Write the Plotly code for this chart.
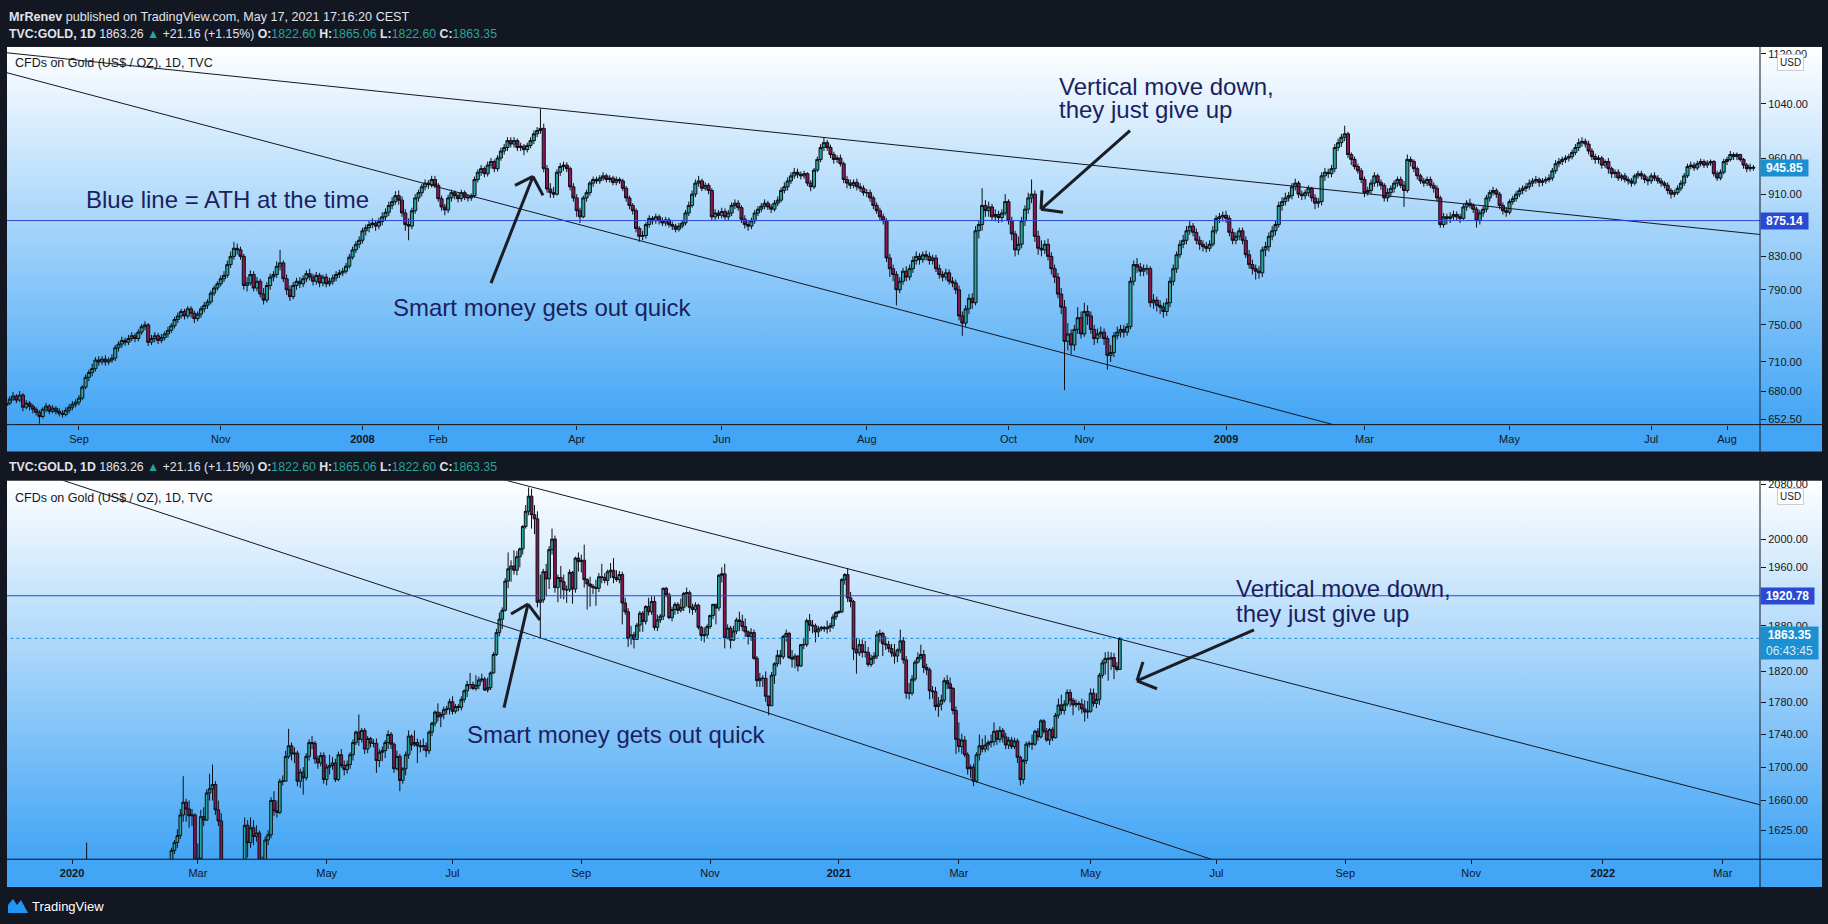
import base64
import numpy as np
import pandas as pd
import plotly.graph_objects as go

W, H = 1828, 924

# ------------------------------------------------------------------ data: top panel (TVC:GOLD 1D, Aug 2007 - Aug 2009)
top_start = "2007-08-01"
top_open = [
    664, 666, 668, 672, 675, 671, 676, 664, 668, 665,
    662, 659, 655, 662, 665, 660, 663, 660, 658, 657,
    661, 664, 667, 669, 673, 684, 694, 699, 703, 712,
    710, 713, 710, 712, 714, 725, 729, 733, 731, 735,
    738, 735, 742, 748, 750, 731, 735, 738, 733, 736,
    740, 744, 749, 756, 760, 765, 760, 768, 763, 757,
    762, 768, 772, 776, 786, 792, 797, 803, 807, 820,
    830, 840, 838, 830, 795, 798, 808, 792, 800, 785,
    778, 795, 805, 808, 818, 822, 803, 790, 782, 795,
    800, 797, 803, 809, 805, 800, 807, 798, 805, 797,
    800, 804, 808, 810, 812, 818, 829, 838, 845, 850,
    862, 866, 870, 872, 868, 874, 880, 886, 895, 900,
    908, 902, 885, 870, 868, 888, 905, 912, 920, 925,
    923, 930, 922, 904, 893, 889, 905, 912, 908, 904,
    912, 906, 905, 908, 930, 940, 945, 938, 950, 955,
    945, 960, 970, 975, 985, 980, 985, 975, 977, 972,
    978, 985, 995, 1000, 1003, 945, 917, 912, 910, 940,
    948, 950, 945, 920, 905, 888, 880, 905, 912, 925,
    930, 928, 932, 935, 930, 932, 926, 930, 928, 918,
    905, 895, 888, 865, 855, 856, 870, 878, 875, 880,
    875, 872, 876, 870, 868, 864, 868, 872, 885, 895,
    910, 925, 928, 918, 922, 915, 880, 885, 882, 887,
    880, 885, 895, 898, 892, 877, 870, 868, 875, 885,
    890, 894, 898, 893, 890, 898, 902, 915, 920, 928,
    935, 940, 937, 935, 938, 925, 920, 943, 958, 975,
    982, 975, 965, 958, 960, 952, 930, 925, 922, 926,
    920, 918, 912, 912, 905, 895, 888, 880, 875, 828,
    815, 808, 790, 800, 812, 805, 815, 825, 830, 826,
    832, 830, 825, 828, 815, 808, 805, 810, 800, 798,
    790, 760, 752, 768, 780, 775, 862, 870, 895, 888,
    893, 880, 883, 879, 885, 900, 875, 858, 838, 845,
    875, 890, 905, 910, 855, 840, 838, 845, 830, 815,
    805, 785, 770, 732, 740, 728, 745, 758, 740, 765,
    760, 745, 735, 740, 742, 735, 717, 720, 738, 742,
    745, 742, 748, 800, 820, 817, 812, 815, 815, 775,
    778, 772, 770, 765, 775, 800, 815, 832, 845, 850,
    862, 868, 860, 850, 845, 842, 840, 845, 862, 878,
    880, 882, 878, 860, 850, 855, 862, 850, 832, 820,
    815, 812, 810, 838, 842, 855, 862, 870, 895, 900,
    905, 908, 920, 925, 910, 908, 912, 918, 905, 898,
    900, 935, 940, 938, 945, 975, 982, 990, 995, 965,
    958, 948, 942, 930, 912, 915, 925, 935, 926, 922,
    905, 912, 918, 925, 930, 922, 915, 958, 955, 945,
    935, 928, 925, 930, 922, 918, 905, 870, 880, 878,
    880, 883, 880, 878, 893, 898, 895, 890, 875, 885,
    890, 905, 912, 915, 910, 895, 888, 886, 900, 904,
    910, 915, 918, 920, 925, 928, 930, 926, 928, 930,
    932, 942, 952, 955, 958, 960, 962, 968, 975, 982,
    984, 980, 970, 962, 958, 960, 950, 955, 945, 938,
    940, 932, 935, 930, 928, 925, 935, 938, 935, 930,
    928, 935, 932, 928, 925, 922, 915, 910, 912, 918,
    925, 935, 948, 950, 946, 952, 955, 950, 953, 955,
    938, 932, 940, 955, 958, 965, 962, 965, 958, 950, 945, 947,
]
top_high = [
    669, 671, 675, 679, 677, 680, 678, 671, 670, 667,
    664, 661, 664, 668, 667, 666, 665, 663, 661, 664,
    667, 670, 672, 676, 686, 697, 702, 708, 715, 716,
    716, 717, 715, 718, 728, 732, 737, 736, 739, 742,
    741, 745, 751, 754, 752, 739, 742, 741, 740, 743,
    748, 752, 759, 764, 768, 768, 771, 771, 766, 765,
    771, 776, 779, 789, 795, 800, 807, 812, 825, 836,
    848, 846, 842, 833, 805, 813, 812, 805, 803, 792,
    799, 809, 812, 824, 838, 825, 808, 795, 799, 804,
    805, 807, 813, 815, 809, 811, 810, 808, 809, 804,
    808, 812, 814, 816, 822, 833, 842, 849, 855, 866,
    870, 875, 878, 876, 879, 886, 891, 900, 906, 914,
    915, 907, 890, 878, 892, 910, 916, 924, 930, 929,
    935, 935, 925, 908, 897, 909, 916, 915, 911, 916,
    915, 910, 911, 934, 944, 950, 948, 955, 960, 958,
    964, 975, 980, 990, 990, 990, 988, 982, 980, 982,
    990, 1000, 1005, 1033, 1010, 950, 925, 920, 944, 953,
    955, 954, 948, 925, 910, 892, 908, 916, 928, 934,
    934, 936, 940, 938, 936, 935, 934, 933, 931, 921,
    908, 898, 891, 868, 862, 873, 882, 881, 884, 883,
    879, 880, 879, 874, 871, 872, 876, 889, 900, 915,
    930, 935, 931, 926, 925, 918, 890, 889, 892, 891,
    889, 899, 903, 902, 895, 882, 875, 879, 889, 894,
    898, 903, 901, 897, 902, 907, 919, 926, 933, 940,
    946, 945, 941, 942, 940, 929, 946, 962, 980, 990,
    986, 979, 969, 964, 965, 955, 935, 930, 930, 931,
    925, 922, 917, 916, 908, 899, 892, 884, 878, 833,
    820, 812, 805, 816, 818, 820, 830, 836, 834, 836,
    837, 835, 832, 832, 820, 812, 815, 814, 805, 802,
    795, 765, 772, 785, 786, 868, 875, 918, 902, 900,
    897, 890, 888, 890, 910, 903, 880, 862, 855, 880,
    895, 912, 930, 915, 862, 850, 850, 852, 835, 820,
    810, 792, 778, 752, 745, 750, 770, 765, 775, 772,
    765, 750, 746, 748, 746, 738, 728, 742, 748, 750,
    750, 752, 805, 825, 828, 822, 820, 820, 818, 785,
    782, 778, 775, 780, 805, 820, 836, 850, 857, 868,
    875, 872, 865, 855, 850, 848, 850, 868, 882, 885,
    887, 888, 882, 865, 860, 866, 866, 855, 838, 826,
    820, 818, 842, 848, 860, 868, 875, 900, 906, 912,
    913, 925, 931, 928, 915, 916, 922, 920, 910, 905,
    940, 946, 945, 950, 980, 988, 995, 1007, 998, 968,
    962, 952, 946, 934, 920, 930, 940, 938, 930, 925,
    918, 922, 929, 934, 934, 928, 965, 962, 958, 948,
    938, 932, 934, 934, 926, 922, 908, 885, 884, 886,
    888, 887, 884, 897, 902, 904, 898, 893, 889, 895,
    909, 916, 920, 918, 913, 899, 893, 903, 908, 914,
    919, 922, 925, 930, 932, 935, 933, 932, 934, 937,
    946, 957, 960, 962, 964, 966, 972, 980, 988, 990,
    988, 985, 974, 966, 964, 963, 958, 960, 948, 944,
    944, 938, 939, 934, 932, 938, 942, 942, 938, 934,
    939, 940, 936, 932, 928, 926, 918, 916, 922, 929,
    939, 952, 955, 954, 956, 959, 958, 957, 958, 957,
    942, 944, 959, 962, 970, 968, 968, 966, 960, 953, 952, 950,
]
top_low = [
    661, 663, 666, 670, 668, 669, 660, 662, 661, 658,
    656, 648, 653, 659, 657, 658, 657, 655, 654, 655,
    658, 661, 664, 666, 671, 682, 690, 695, 700, 706,
    707, 706, 707, 709, 711, 721, 725, 727, 728, 732,
    731, 732, 739, 744, 727, 728, 731, 729, 730, 733,
    736, 741, 746, 752, 757, 756, 757, 758, 752, 754,
    758, 764, 768, 773, 783, 789, 794, 799, 804, 816,
    826, 832, 826, 790, 788, 795, 788, 788, 781, 773,
    775, 790, 800, 804, 813, 799, 784, 777, 779, 790,
    792, 793, 799, 801, 795, 796, 793, 794, 793, 794,
    796, 800, 804, 806, 809, 815, 826, 834, 840, 846,
    856, 860, 865, 862, 864, 869, 875, 881, 890, 896,
    896, 880, 862, 850, 864, 884, 900, 907, 915, 917,
    919, 918, 900, 888, 882, 885, 900, 903, 899, 900,
    902, 900, 901, 905, 926, 935, 933, 934, 945, 940,
    941, 956, 965, 970, 975, 975, 970, 970, 964, 968,
    974, 980, 990, 995, 940, 912, 905, 905, 908, 935,
    942, 940, 915, 900, 880, 872, 878, 900, 908, 920,
    924, 924, 928, 926, 926, 922, 922, 924, 914, 900,
    890, 883, 860, 848, 850, 852, 866, 870, 871, 870,
    868, 868, 866, 863, 860, 861, 865, 869, 881, 892,
    906, 920, 914, 915, 910, 875, 876, 877, 878, 876,
    876, 881, 890, 888, 872, 865, 862, 864, 871, 881,
    886, 890, 889, 885, 887, 894, 899, 911, 915, 924,
    931, 932, 930, 931, 921, 914, 917, 940, 954, 970,
    970, 960, 952, 953, 948, 925, 918, 917, 918, 915,
    913, 908, 906, 900, 890, 884, 875, 870, 823, 805,
    800, 772, 786, 796, 800, 801, 810, 820, 820, 822,
    825, 820, 820, 811, 803, 800, 801, 796, 793, 785,
    755, 738, 748, 762, 768, 772, 852, 862, 880, 880,
    875, 874, 872, 873, 882, 870, 850, 830, 832, 840,
    868, 884, 898, 848, 832, 830, 833, 825, 808, 798,
    780, 762, 681, 722, 718, 722, 740, 735, 737, 750,
    740, 728, 730, 735, 728, 702, 710, 715, 734, 736,
    736, 738, 745, 795, 810, 806, 806, 808, 770, 768,
    765, 762, 758, 760, 770, 795, 810, 828, 840, 845,
    857, 855, 845, 838, 836, 835, 836, 842, 858, 872,
    874, 872, 855, 845, 845, 850, 845, 828, 815, 808,
    802, 803, 805, 830, 836, 850, 856, 866, 888, 895,
    900, 903, 915, 905, 902, 903, 907, 900, 890, 892,
    895, 928, 932, 933, 940, 970, 976, 984, 960, 950,
    944, 938, 925, 906, 908, 910, 920, 920, 916, 900,
    900, 906, 912, 920, 918, 893, 912, 948, 940, 930,
    924, 920, 921, 918, 912, 900, 866, 866, 870, 872,
    876, 875, 872, 876, 888, 891, 885, 866, 870, 880,
    886, 900, 908, 905, 890, 883, 880, 883, 896, 900,
    906, 910, 913, 916, 920, 924, 920, 921, 924, 926,
    928, 938, 947, 950, 953, 955, 958, 964, 970, 976,
    975, 965, 957, 952, 952, 945, 946, 938, 932, 932,
    928, 928, 926, 923, 920, 922, 931, 930, 925, 922,
    924, 928, 924, 920, 918, 910, 904, 906, 909, 914,
    921, 932, 944, 942, 943, 948, 946, 946, 949, 934,
    928, 929, 937, 950, 955, 957, 957, 955, 945, 940, 941, 942,
]
top_close = [
    666, 668, 672, 675, 671, 676, 664, 668, 665, 662,
    659, 655, 662, 665, 660, 663, 660, 658, 657, 661,
    664, 667, 669, 673, 684, 694, 699, 703, 712, 710,
    713, 710, 712, 714, 725, 729, 733, 731, 735, 738,
    735, 742, 748, 750, 731, 735, 738, 733, 736, 740,
    744, 749, 756, 760, 765, 760, 768, 763, 757, 762,
    768, 772, 776, 786, 792, 797, 803, 807, 820, 830,
    840, 838, 830, 795, 798, 808, 792, 800, 785, 778,
    795, 805, 808, 818, 822, 803, 790, 782, 795, 800,
    797, 803, 809, 805, 800, 807, 798, 805, 797, 800,
    804, 808, 810, 812, 818, 829, 838, 845, 850, 862,
    866, 870, 872, 868, 874, 880, 886, 895, 900, 908,
    902, 885, 870, 868, 888, 905, 912, 920, 925, 923,
    930, 922, 904, 893, 889, 905, 912, 908, 904, 912,
    906, 905, 908, 930, 940, 945, 938, 950, 955, 945,
    960, 970, 975, 985, 980, 985, 975, 977, 972, 978,
    985, 995, 1000, 1003, 945, 917, 912, 910, 940, 948,
    950, 945, 920, 905, 888, 880, 905, 912, 925, 930,
    928, 932, 935, 930, 932, 926, 930, 928, 918, 905,
    895, 888, 865, 855, 856, 870, 878, 875, 880, 875,
    872, 876, 870, 868, 864, 868, 872, 885, 895, 910,
    925, 928, 918, 922, 915, 880, 885, 882, 887, 880,
    885, 895, 898, 892, 877, 870, 868, 875, 885, 890,
    894, 898, 893, 890, 898, 902, 915, 920, 928, 935,
    940, 937, 935, 938, 925, 920, 943, 958, 975, 982,
    975, 965, 958, 960, 952, 930, 925, 922, 926, 920,
    918, 912, 912, 905, 895, 888, 880, 875, 828, 815,
    808, 790, 800, 812, 805, 815, 825, 830, 826, 832,
    830, 825, 828, 815, 808, 805, 810, 800, 798, 790,
    760, 752, 768, 780, 775, 862, 870, 895, 888, 893,
    880, 883, 879, 885, 900, 875, 858, 838, 845, 875,
    890, 905, 910, 855, 840, 838, 845, 830, 815, 805,
    785, 770, 732, 740, 728, 745, 758, 740, 765, 760,
    745, 735, 740, 742, 735, 717, 720, 738, 742, 745,
    742, 748, 800, 820, 817, 812, 815, 815, 775, 778,
    772, 770, 765, 775, 800, 815, 832, 845, 850, 862,
    868, 860, 850, 845, 842, 840, 845, 862, 878, 880,
    882, 878, 860, 850, 855, 862, 850, 832, 820, 815,
    812, 810, 838, 842, 855, 862, 870, 895, 900, 905,
    908, 920, 925, 910, 908, 912, 918, 905, 898, 900,
    935, 940, 938, 945, 975, 982, 990, 995, 965, 958,
    948, 942, 930, 912, 915, 925, 935, 926, 922, 905,
    912, 918, 925, 930, 922, 915, 958, 955, 945, 935,
    928, 925, 930, 922, 918, 905, 870, 880, 878, 880,
    883, 880, 878, 893, 898, 895, 890, 875, 885, 890,
    905, 912, 915, 910, 895, 888, 886, 900, 904, 910,
    915, 918, 920, 925, 928, 930, 926, 928, 930, 932,
    942, 952, 955, 958, 960, 962, 968, 975, 982, 984,
    980, 970, 962, 958, 960, 950, 955, 945, 938, 940,
    932, 935, 930, 928, 925, 935, 938, 935, 930, 928,
    935, 932, 928, 925, 922, 915, 910, 912, 918, 925,
    935, 948, 950, 946, 952, 955, 950, 953, 955, 938,
    932, 940, 955, 958, 965, 962, 965, 958, 950, 945, 947, 945.85,
]
top_ath_level = 875.14
top_last_price = 945.85
# trendlines: [bar position], [price] at both ends
top_upper_line_bars = [1.16, 533.0]
top_upper_line_prices = [1121.7, 857.3]
top_lower_line_bars = [1.16, 411.7]
top_lower_line_prices = [1089.1, 640.3]
top_price_ticks = [652.5, 680, 710, 750, 790, 830, 910, 960, 1040, 1120]
top_tick_months = ["2007-09", "2007-11", "2008-01", "2008-02", "2008-04", "2008-06", "2008-08",
                   "2008-10", "2008-11", "2009-01", "2009-03", "2009-05", "2009-07", "2009-08"]
top_tick_text = ["Sep", "Nov", "<b>2008</b>", "Feb", "Apr", "Jun", "Aug",
                 "Oct", "Nov", "<b>2009</b>", "Mar", "May", "Jul", "Aug"]

# ------------------------------------------------------------------ data: bottom panel (TVC:GOLD 1D, Dec 2019 - May 2021)
bot_start = "2019-12-02"
bot_open = [
    1458, 1463, 1477, 1474, 1475, 1460, 1463, 1465, 1476, 1468,
    1476, 1476, 1476, 1474, 1478, 1478, 1484, 1498, 1502, 1505,
    1511, 1515, 1517, 1519, 1528, 1552, 1566, 1574, 1556, 1552,
    1562, 1548, 1546, 1555, 1552, 1557, 1560, 1557, 1558, 1563,
    1571, 1581, 1567, 1577, 1576, 1589, 1577, 1553, 1557, 1566,
    1571, 1573, 1566, 1570, 1575, 1584, 1582, 1602, 1611, 1619,
    1643, 1658, 1650, 1642, 1643, 1585, 1593, 1641, 1637, 1669,
    1674, 1679, 1649, 1636, 1576, 1530, 1515, 1474, 1478, 1470,
    1498, 1553, 1631, 1611, 1628, 1618, 1622, 1577, 1591, 1614,
    1620, 1660, 1648, 1646, 1683, 1683, 1713, 1726, 1716, 1717,
    1683, 1694, 1687, 1713, 1730, 1729, 1710, 1705, 1714, 1685,
    1700, 1702, 1705, 1685, 1715, 1702, 1697, 1703, 1715, 1730,
    1743, 1734, 1745, 1722, 1735, 1729, 1729, 1708, 1718, 1720,
    1730, 1740, 1728, 1698, 1713, 1684, 1698, 1715, 1738, 1727,
    1730, 1726, 1725, 1726, 1720, 1743, 1754, 1768, 1762, 1765,
    1771, 1772, 1781, 1769, 1775, 1774, 1784, 1795, 1803, 1803,
    1798, 1802, 1809, 1810, 1796, 1799, 1818, 1842, 1871, 1889,
    1901, 1941, 1958, 1962, 1956, 1975, 1986, 2018, 2040, 2062,
    2035, 2029, 1912, 1915, 1954, 1944, 1985, 2000, 1932, 1946,
    1940, 1929, 1929, 1953, 1930, 1973, 1968, 1970, 1943, 1937,
    1934, 1932, 1931, 1947, 1946, 1942, 1954, 1956, 1946, 1943,
    1950, 1911, 1899, 1863, 1868, 1862, 1881, 1897, 1886, 1906,
    1899, 1913, 1878, 1888, 1893, 1931, 1922, 1891, 1902, 1909,
    1901, 1905, 1924, 1925, 1905, 1902, 1908, 1878, 1867, 1868,
    1879, 1894, 1909, 1904, 1949, 1951, 1864, 1877, 1861, 1873,
    1888, 1886, 1879, 1872, 1866, 1871, 1837, 1808, 1811, 1811,
    1788, 1776, 1815, 1830, 1841, 1839, 1866, 1870, 1838, 1836,
    1840, 1827, 1855, 1855, 1887, 1881, 1880, 1872, 1876, 1878,
    1876, 1878, 1880, 1892, 1898, 1899, 1943, 1950, 1918, 1913,
    1849, 1844, 1855, 1845, 1845, 1829, 1837, 1840, 1868, 1870,
    1856, 1855, 1850, 1844, 1840, 1848, 1860, 1835, 1792, 1792,
    1810, 1832, 1838, 1842, 1825, 1822, 1795, 1794, 1775, 1778,
    1783, 1808, 1804, 1798, 1770, 1734, 1725, 1733, 1715, 1698,
    1700, 1683, 1715, 1726, 1722, 1727, 1730, 1731, 1744, 1734,
    1745, 1737, 1727, 1733, 1725, 1732, 1712, 1685, 1708, 1728,
    1729, 1728, 1744, 1737, 1757, 1744, 1733, 1746, 1736, 1764,
    1777, 1770, 1778, 1793, 1783, 1777, 1779, 1778, 1772, 1768,
    1769, 1792, 1779, 1784, 1815, 1831, 1837, 1836, 1838, 1826, 1822.60,
]
bot_high = [
    1466, 1480, 1480, 1479, 1477, 1467, 1470, 1479, 1478, 1480,
    1480, 1480, 1479, 1481, 1482, 1488, 1500, 1505, 1508, 1514,
    1520, 1523, 1522, 1530, 1555, 1580, 1589, 1611, 1562, 1564,
    1564, 1552, 1558, 1557, 1561, 1563, 1562, 1562, 1567, 1574,
    1588, 1584, 1580, 1583, 1592, 1592, 1580, 1560, 1570, 1575,
    1580, 1576, 1572, 1578, 1588, 1588, 1605, 1614, 1626, 1650,
    1689, 1662, 1660, 1650, 1645, 1610, 1649, 1652, 1673, 1692,
    1703, 1683, 1660, 1645, 1580, 1575, 1545, 1548, 1505, 1515,
    1560, 1640, 1637, 1640, 1637, 1631, 1625, 1595, 1618, 1625,
    1664, 1671, 1660, 1686, 1690, 1720, 1747, 1730, 1724, 1720,
    1698, 1700, 1717, 1734, 1738, 1732, 1714, 1718, 1718, 1704,
    1715, 1712, 1710, 1719, 1722, 1708, 1708, 1718, 1734, 1745,
    1765, 1748, 1748, 1738, 1737, 1734, 1735, 1722, 1725, 1733,
    1745, 1743, 1730, 1720, 1716, 1700, 1719, 1745, 1740, 1745,
    1735, 1733, 1735, 1730, 1745, 1756, 1770, 1779, 1768, 1775,
    1776, 1785, 1788, 1778, 1778, 1788, 1797, 1808, 1818, 1807,
    1815, 1813, 1817, 1813, 1812, 1820, 1845, 1876, 1898, 1905,
    1945, 1981, 1970, 1984, 1983, 1988, 2020, 2049, 2075, 2073,
    2049, 2040, 1950, 1958, 1965, 1990, 2015, 2005, 1950, 1962,
    1950, 1935, 1957, 1955, 1975, 1981, 1978, 1992, 1945, 1947,
    1937, 1943, 1952, 1965, 1952, 1957, 1966, 1973, 1956, 1955,
    1954, 1918, 1904, 1880, 1872, 1884, 1900, 1900, 1908, 1918,
    1920, 1920, 1895, 1896, 1932, 1933, 1925, 1906, 1912, 1912,
    1917, 1926, 1932, 1928, 1910, 1912, 1910, 1880, 1878, 1882,
    1895, 1910, 1910, 1951, 1960, 1965, 1882, 1880, 1880, 1891,
    1899, 1895, 1890, 1874, 1877, 1875, 1840, 1818, 1815, 1820,
    1789, 1819, 1832, 1848, 1848, 1868, 1875, 1872, 1848, 1843,
    1841, 1856, 1864, 1890, 1896, 1888, 1883, 1880, 1880, 1880,
    1887, 1884, 1896, 1900, 1901, 1945, 1952, 1959, 1926, 1915,
    1864, 1862, 1862, 1860, 1852, 1842, 1845, 1873, 1875, 1872,
    1866, 1860, 1856, 1856, 1850, 1875, 1865, 1840, 1805, 1815,
    1835, 1845, 1855, 1848, 1830, 1825, 1801, 1800, 1787, 1790,
    1812, 1815, 1812, 1800, 1775, 1755, 1741, 1738, 1718, 1703,
    1704, 1718, 1740, 1735, 1739, 1733, 1740, 1755, 1746, 1750,
    1748, 1742, 1737, 1737, 1736, 1735, 1714, 1710, 1731, 1732,
    1740, 1746, 1748, 1759, 1759, 1748, 1748, 1749, 1767, 1785,
    1790, 1783, 1797, 1797, 1786, 1784, 1782, 1785, 1783, 1782,
    1798, 1798, 1792, 1818, 1835, 1845, 1846, 1845, 1844, 1832, 1865.06,
]
bot_low = [
    1455, 1460, 1470, 1471, 1458, 1457, 1460, 1463, 1465, 1466,
    1472, 1472, 1470, 1472, 1474, 1477, 1482, 1496, 1499, 1502,
    1508, 1512, 1515, 1516, 1525, 1548, 1560, 1553, 1545, 1550,
    1545, 1536, 1543, 1548, 1550, 1554, 1552, 1551, 1555, 1560,
    1567, 1562, 1565, 1570, 1572, 1573, 1548, 1550, 1553, 1561,
    1565, 1564, 1563, 1566, 1572, 1578, 1580, 1598, 1605, 1615,
    1635, 1635, 1628, 1630, 1563, 1576, 1588, 1630, 1636, 1660,
    1660, 1643, 1630, 1560, 1517, 1505, 1465, 1470, 1451, 1461,
    1483, 1546, 1594, 1605, 1608, 1612, 1570, 1568, 1585, 1608,
    1616, 1642, 1640, 1644, 1678, 1682, 1710, 1708, 1705, 1677,
    1675, 1667, 1684, 1708, 1722, 1704, 1698, 1701, 1680, 1678,
    1691, 1697, 1682, 1683, 1699, 1690, 1692, 1698, 1708, 1727,
    1726, 1730, 1716, 1717, 1724, 1724, 1693, 1700, 1707, 1711,
    1722, 1722, 1693, 1696, 1671, 1680, 1690, 1710, 1720, 1725,
    1705, 1718, 1720, 1712, 1716, 1738, 1750, 1756, 1749, 1759,
    1765, 1765, 1765, 1766, 1769, 1770, 1780, 1787, 1797, 1796,
    1795, 1797, 1806, 1795, 1793, 1796, 1817, 1840, 1866, 1876,
    1899, 1931, 1940, 1950, 1949, 1960, 1978, 2015, 2034, 2015,
    2007, 1905, 1863, 1911, 1920, 1930, 1978, 1925, 1912, 1917,
    1916, 1911, 1926, 1910, 1925, 1954, 1953, 1932, 1902, 1906,
    1923, 1907, 1926, 1938, 1938, 1935, 1945, 1938, 1940, 1938,
    1882, 1895, 1852, 1855, 1850, 1861, 1872, 1872, 1882, 1894,
    1895, 1874, 1873, 1884, 1888, 1919, 1889, 1886, 1895, 1896,
    1898, 1900, 1906, 1897, 1895, 1898, 1875, 1860, 1858, 1864,
    1876, 1889, 1882, 1900, 1939, 1850, 1862, 1850, 1860, 1869,
    1873, 1873, 1865, 1855, 1860, 1835, 1800, 1800, 1800, 1781,
    1764, 1776, 1804, 1826, 1829, 1836, 1859, 1836, 1825, 1824,
    1820, 1826, 1849, 1852, 1873, 1870, 1858, 1865, 1873, 1872,
    1870, 1872, 1876, 1888, 1896, 1897, 1936, 1912, 1905, 1835,
    1817, 1840, 1838, 1838, 1826, 1826, 1830, 1836, 1858, 1840,
    1848, 1845, 1839, 1830, 1832, 1844, 1830, 1785, 1784, 1789,
    1807, 1830, 1835, 1818, 1815, 1784, 1785, 1770, 1762, 1770,
    1780, 1797, 1780, 1765, 1716, 1718, 1716, 1712, 1691, 1687,
    1677, 1681, 1708, 1718, 1718, 1720, 1724, 1726, 1727, 1730,
    1730, 1722, 1722, 1722, 1722, 1705, 1678, 1680, 1704, 1724,
    1721, 1726, 1732, 1735, 1741, 1731, 1727, 1732, 1735, 1760,
    1765, 1765, 1775, 1775, 1764, 1774, 1770, 1766, 1756, 1760,
    1767, 1775, 1773, 1777, 1811, 1816, 1808, 1822, 1810, 1820, 1822.60,
]
bot_close = [
    1463, 1477, 1474, 1475, 1460, 1463, 1465, 1476, 1468, 1476,
    1476, 1476, 1474, 1478, 1478, 1484, 1498, 1502, 1505, 1511,
    1515, 1517, 1519, 1528, 1552, 1566, 1574, 1556, 1552, 1562,
    1548, 1546, 1555, 1552, 1557, 1560, 1557, 1558, 1563, 1571,
    1581, 1567, 1577, 1576, 1589, 1577, 1553, 1557, 1566, 1571,
    1573, 1566, 1570, 1575, 1584, 1582, 1602, 1611, 1619, 1643,
    1658, 1650, 1642, 1643, 1585, 1593, 1641, 1637, 1669, 1674,
    1679, 1649, 1636, 1576, 1530, 1515, 1474, 1478, 1470, 1498,
    1553, 1631, 1611, 1628, 1618, 1622, 1577, 1591, 1614, 1620,
    1660, 1648, 1646, 1683, 1683, 1713, 1726, 1716, 1717, 1683,
    1694, 1687, 1713, 1730, 1729, 1710, 1705, 1714, 1685, 1700,
    1702, 1705, 1685, 1715, 1702, 1697, 1703, 1715, 1730, 1743,
    1734, 1745, 1722, 1735, 1729, 1729, 1708, 1718, 1720, 1730,
    1740, 1728, 1698, 1713, 1684, 1698, 1715, 1738, 1727, 1730,
    1726, 1725, 1726, 1720, 1743, 1754, 1768, 1762, 1765, 1771,
    1772, 1781, 1769, 1775, 1774, 1784, 1795, 1803, 1803, 1798,
    1802, 1809, 1810, 1796, 1799, 1818, 1842, 1871, 1889, 1901,
    1941, 1958, 1962, 1956, 1975, 1986, 2018, 2040, 2062, 2035,
    2029, 1912, 1915, 1954, 1944, 1985, 2000, 1932, 1946, 1940,
    1929, 1929, 1953, 1930, 1973, 1968, 1970, 1943, 1937, 1934,
    1932, 1931, 1947, 1946, 1942, 1954, 1956, 1946, 1943, 1950,
    1911, 1899, 1863, 1868, 1862, 1881, 1897, 1886, 1906, 1899,
    1913, 1878, 1888, 1893, 1931, 1922, 1891, 1902, 1909, 1901,
    1905, 1924, 1925, 1905, 1902, 1908, 1878, 1867, 1868, 1879,
    1894, 1909, 1904, 1949, 1951, 1864, 1877, 1861, 1873, 1888,
    1886, 1879, 1872, 1866, 1871, 1837, 1808, 1811, 1811, 1788,
    1776, 1815, 1830, 1841, 1839, 1866, 1870, 1838, 1836, 1840,
    1827, 1855, 1855, 1887, 1881, 1880, 1872, 1876, 1878, 1876,
    1878, 1880, 1892, 1898, 1899, 1943, 1950, 1918, 1913, 1849,
    1844, 1855, 1845, 1845, 1829, 1837, 1840, 1868, 1870, 1856,
    1855, 1850, 1844, 1840, 1848, 1860, 1835, 1792, 1792, 1810,
    1832, 1838, 1842, 1825, 1822, 1795, 1794, 1775, 1778, 1783,
    1808, 1804, 1798, 1770, 1734, 1725, 1733, 1715, 1698, 1700,
    1683, 1715, 1726, 1722, 1727, 1730, 1731, 1744, 1734, 1745,
    1737, 1727, 1733, 1725, 1732, 1712, 1685, 1708, 1728, 1729,
    1728, 1744, 1737, 1757, 1744, 1733, 1746, 1736, 1764, 1777,
    1770, 1778, 1793, 1783, 1777, 1779, 1778, 1772, 1768, 1769,
    1792, 1779, 1784, 1815, 1831, 1837, 1836, 1838, 1826, 1822.60, 1863.35,
]
bot_ath_level = 1920.78
bot_last_price = 1863.35
bot_upper_line_bars = [150.0, 598.7]
bot_upper_line_prices = [2108.4, 1655.0]
bot_lower_line_bars = [7.65, 417.6]
bot_lower_line_prices = [2101.7, 1585.0]
bot_price_ticks = [1625, 1660, 1700, 1740, 1780, 1820, 1880, 1960, 2000, 2080]
bot_tick_months = ["2020-01", "2020-03", "2020-05", "2020-07", "2020-09", "2020-11", "2021-01",
                   "2021-03", "2021-05", "2021-07", "2021-09", "2021-11", "2022-01", "2022-03"]
bot_tick_text = ["<b>2020</b>", "Mar", "May", "Jul", "Sep", "Nov", "<b>2021</b>",
                 "Mar", "May", "Jul", "Sep", "Nov", "<b>2022</b>", "Mar"]

# ------------------------------------------------------------------ layout constants
TOP_DOM = [1 - 423 / H, 1 - 44 / H]
BOT_DOM = [1 - 859 / H, 1 - 479 / H]
X_DOM = [7 / W, 1760 / W]
TOP_XRANGE = [1.16, 533.0]
BOT_XRANGE = [-0.21, 598.7]
TOP_YRANGE = [np.log10(647.1), np.log10(1131.6)]
BOT_YRANGE = [np.log10(1592.0), np.log10(2085.3)]

BG = "#131722"
UP = "#26a69a"
DOWN = "#8c1650"
EDGE = "#0c0e15"
NAVY = "#1b1f60"
HLINE = "#2a4ad3"
LAST = "#1c8fd2"
AX = "#131722"
TXT_FONT = "Liberation Sans, Arial, sans-serif"


def month_positions(start, months):
    idx = pd.bdate_range(start, periods=900)
    return [int(idx.searchsorted(pd.Timestamp(m + "-01"))) for m in months]


def price_to_paper(p, rng, dom):
    f = (np.log10(p) - rng[0]) / (rng[1] - rng[0])
    return dom[0] + f * (dom[1] - dom[0])


fig = go.Figure()

candle_style = dict(
    increasing=dict(line=dict(color=EDGE, width=1), fillcolor=UP),
    decreasing=dict(line=dict(color=EDGE, width=1), fillcolor=DOWN),
    whiskerwidth=0, hoverinfo="skip", showlegend=False,
)
fig.add_trace(go.Candlestick(x=np.arange(len(top_close)), open=top_open, high=top_high,
                             low=top_low, close=top_close, xaxis="x", yaxis="y", **candle_style))
fig.add_trace(go.Candlestick(x=np.arange(len(bot_close)), open=bot_open, high=bot_high,
                             low=bot_low, close=bot_close, xaxis="x2", yaxis="y2", **candle_style))

line_kw = dict(mode="lines", hoverinfo="skip", showlegend=False)
# trend lines
fig.add_trace(go.Scatter(x=top_upper_line_bars, y=top_upper_line_prices, xaxis="x", yaxis="y",
                         line=dict(color=AX, width=1), **line_kw))
fig.add_trace(go.Scatter(x=top_lower_line_bars, y=top_lower_line_prices, xaxis="x", yaxis="y",
                         line=dict(color=AX, width=1), **line_kw))
fig.add_trace(go.Scatter(x=bot_upper_line_bars, y=bot_upper_line_prices, xaxis="x2", yaxis="y2",
                         line=dict(color=AX, width=1), **line_kw))
fig.add_trace(go.Scatter(x=bot_lower_line_bars, y=bot_lower_line_prices, xaxis="x2", yaxis="y2",
                         line=dict(color=AX, width=1), **line_kw))
# ATH horizontal lines
fig.add_trace(go.Scatter(x=[TOP_XRANGE[0] - 5, TOP_XRANGE[1] + 5], y=[top_ath_level] * 2,
                         xaxis="x", yaxis="y", line=dict(color=HLINE, width=1), **line_kw))
fig.add_trace(go.Scatter(x=[BOT_XRANGE[0] - 5, BOT_XRANGE[1] + 5], y=[bot_ath_level] * 2,
                         xaxis="x2", yaxis="y2", line=dict(color=HLINE, width=1), **line_kw))
# last price dotted line (bottom)
fig.add_trace(go.Scatter(x=[BOT_XRANGE[0] - 5, BOT_XRANGE[1] + 5], y=[bot_last_price] * 2,
                         xaxis="x2", yaxis="y2", line=dict(color="#1e90d6", width=1, dash="dot"),
                         **line_kw))

axis_font = dict(family=TXT_FONT, size=11, color=AX)


def xaxis_cfg(rng, start, months, texts, anchor):
    return dict(domain=X_DOM, range=rng, anchor=anchor, tickmode="array",
                tickvals=month_positions(start, months), ticktext=texts,
                ticks="outside", ticklen=4, tickcolor=AX, tickwidth=1, tickfont=axis_font,
                showgrid=False, zeroline=False, showline=False,
                rangeslider=dict(visible=False), fixedrange=True)


def yaxis_cfg(dom, rng, ticks, anchor):
    return dict(domain=dom, range=rng, type="log", side="right", anchor=anchor,
                tickmode="array", tickvals=ticks, ticktext=[f"{v:.2f}" for v in ticks],
                ticks="outside", ticklen=5, tickcolor=AX, tickwidth=1, tickfont=axis_font,
                showgrid=False, zeroline=False, showline=False, fixedrange=True)


# gradient background image (white -> blue)
grad_svg = ('<svg xmlns="http://www.w3.org/2000/svg" width="100" height="100" viewBox="0 0 100 100" '
            'preserveAspectRatio="none"><defs><linearGradient id="g" x1="0" y1="0" x2="0" y2="1">'
            '<stop offset="0" stop-color="#ffffff"/><stop offset="1" stop-color="#42a5f5"/>'
            '</linearGradient></defs><rect x="0" y="0" width="100" height="100" fill="url(#g)"/></svg>')
grad_uri = "data:image/svg+xml;base64," + base64.b64encode(grad_svg.encode()).decode()
images = []
for top, bottom in [(44, 423), (479, 859)]:
    images.append(dict(source=grad_uri, xref="paper", yref="paper", x=7 / W, y=1 - top / H,
                       sizex=(1822 - 7) / W, sizey=(bottom - top) / H, xanchor="left",
                       yanchor="top", sizing="stretch", layer="below"))


def seg(x0, y0, x1, y1, color=AX, width=1, layer="above"):
    return dict(type="line", xref="paper", yref="paper", x0=x0 / W, y0=1 - y0 / H,
                x1=x1 / W, y1=1 - y1 / H, line=dict(color=color, width=width), layer=layer)


def rect(x0, y0, x1, y1, fill):
    return dict(type="rect", xref="paper", yref="paper", x0=x0 / W, y0=1 - y0 / H,
                x1=x1 / W, y1=1 - y1 / H, fillcolor=fill, line=dict(width=0), layer="below")


shapes = [
    rect(7, 423, 1822, 450, "#42a5f5"),
    rect(7, 859, 1822, 887, "#42a5f5"),
    seg(7, 423, 1822, 423), seg(1760, 44, 1760, 450),
    seg(7, 859, 1822, 859), seg(1760, 479, 1760, 887),
]
ARW = "#1a1d26"
arrows = [
    [(491, 281, 533, 174), (533, 174, 515, 183), (533, 174, 543, 193)],
    [(1130, 128, 1041, 207), (1041, 207, 1042, 188), (1041, 207, 1063, 210)],
    [(504, 707, 528, 603), (528, 603, 511, 613), (528, 603, 540, 619)],
    [(1254, 629, 1137, 680), (1137, 680, 1143, 661), (1137, 680, 1157, 688)],
]
for arrow in arrows:
    for (a, b, c, d) in arrow:
        shapes.append(seg(a, b, c, d, color=ARW, width=3))

# TradingView logo mark
logo_pts = [(8, 913), (8, 905), (13, 899), (17, 905), (21, 900), (28, 913)]
logo_path = "M " + " L ".join(f"{x / W:.5f},{1 - y / H:.5f}" for x, y in logo_pts) + " Z"
shapes.append(dict(type="path", xref="paper", yref="paper", path=logo_path,
                   fillcolor="#2196f3", line=dict(width=0), layer="above"))


def ann(text, x, y, size=13, color="#e0e3eb", xanchor="left", yanchor="middle", family=TXT_FONT, **kw):
    return dict(text=text, x=x / W, y=1 - y / H, xref="paper", yref="paper", xanchor=xanchor,
                yanchor=yanchor, showarrow=False, font=dict(family=family, size=size, color=color), **kw)


T = UP
hdr2 = (f"<b>TVC:GOLD, 1D</b> 1863.26 <span style='color:{T}'>▲</span> +21.16 (+1.15%) "
        f"<b>O:</b><span style='color:{T}'>1822.60</span> <b>H:</b><span style='color:{T}'>1865.06</span> "
        f"<b>L:</b><span style='color:{T}'>1822.60</span> <b>C:</b><span style='color:{T}'>1863.35</span>")

big = dict(size=24, color=NAVY, borderpad=0)
annotations = [
    ann("<b>MrRenev</b> published on TradingView.com, May 17, 2021 17:16:20 CEST", 7, 14, size=12.6),
    ann(hdr2, 7, 31, size=12.3),
    ann(hdr2, 7, 465.5, size=12.3),
    ann("TradingView", 30, 906, size=13, color="#ffffff"),
    ann("CFDs on Gold (US$ / OZ), 1D, TVC", 13, 60.5, size=12.5, color=AX),
    ann("CFDs on Gold (US$ / OZ), 1D, TVC", 13, 496.5, size=12.5, color=AX),
    ann("Blue line = ATH at the time", 85, 197, **big),
    ann("Smart money gets out quick", 392, 305, **big),
    ann("Vertical move down,", 1058, 84, **big),
    ann("they just give up", 1058, 107, **big),
    ann("Smart money gets out quick", 466, 734, **big),
    ann("Vertical move down,", 1235, 587, **big),
    ann("they just give up", 1235, 612, **big),
    ann("USD", 1790, 59.5, size=10, color=AX, xanchor="center", bgcolor="#ffffff",
        bordercolor="#c9ced6", borderwidth=1, borderpad=2),
    ann("USD", 1790, 495.5, size=10, color=AX, xanchor="center", bgcolor="#ffffff",
        bordercolor="#c9ced6", borderwidth=1, borderpad=2),
]


def price_box(text, price, rng, dom, color, width, height=16, yanchor="middle", dy=0.0):
    yp = price_to_paper(price, rng, dom) + dy
    return dict(text=text, x=1760 / W, y=yp, xref="paper", yref="paper", xanchor="left",
                yanchor=yanchor, showarrow=False, bgcolor=color, width=width, height=height,
                align="center", borderpad=0,
                font=dict(family=TXT_FONT, size=12, color="#ffffff"))


annotations += [
    price_box(f"<b>{top_last_price:.2f}</b>", top_last_price, TOP_YRANGE, TOP_DOM, LAST, 47),
    price_box(f"<b>{top_ath_level:.2f}</b>", top_ath_level, TOP_YRANGE, TOP_DOM, HLINE, 47),
    price_box(f"<b>{bot_ath_level:.2f}</b>", bot_ath_level, BOT_YRANGE, BOT_DOM, HLINE, 53),
    price_box(f"<b>{bot_last_price:.2f}</b><br><span style='color:#d8ecf9'>06:43:45</span>",
              bot_last_price, BOT_YRANGE, BOT_DOM, LAST, 57, height=32, yanchor="top", dy=12 / H),
]

fig.update_layout(
    width=W, height=H, margin=dict(l=0, r=0, t=0, b=0),
    paper_bgcolor=BG, plot_bgcolor="rgba(0,0,0,0)",
    showlegend=False, hovermode=False,
    boxgap=0.08, boxgroupgap=0.0,
    xaxis=xaxis_cfg(TOP_XRANGE, top_start, top_tick_months, top_tick_text, "y"),
    yaxis=yaxis_cfg(TOP_DOM, TOP_YRANGE, top_price_ticks, "x"),
    xaxis2=xaxis_cfg(BOT_XRANGE, bot_start, bot_tick_months, bot_tick_text, "y2"),
    yaxis2=yaxis_cfg(BOT_DOM, BOT_YRANGE, bot_price_ticks, "x2"),
    images=images, shapes=shapes, annotations=annotations,
)

fig.write_html(
    "out.html",
    config={"displayModeBar": False, "staticPlot": True},
    post_script="document.body.style.margin='0';document.body.style.overflow='hidden';",
)
